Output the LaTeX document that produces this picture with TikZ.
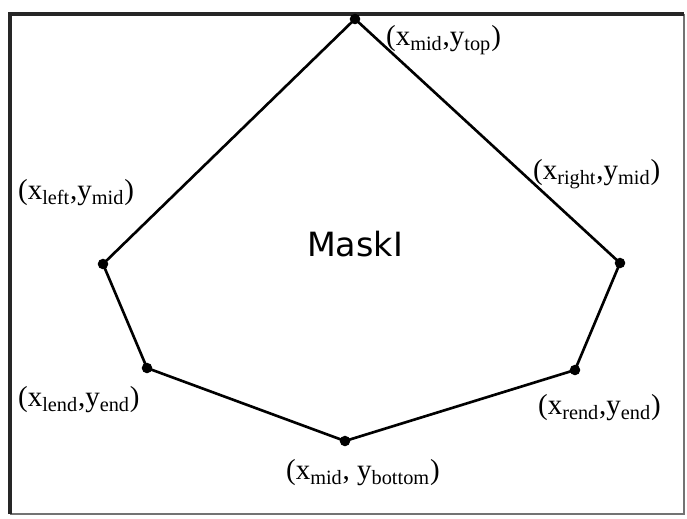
\documentclass[tikz,border=0pt]{standalone}
\usepackage{fontspec}
\setmainfont{Liberation Serif}
\newfontfamily\masksans{DejaVu Sans}
\tikzset{
  vertex/.style={circle, fill=black, inner sep=0pt, minimum size=6pt},
  coordlabel/.style={font=\fontsize{16.5}{19}\selectfont, inner sep=1pt},
}
\begin{document}
\begin{tikzpicture}[x=0.02cm, y=-0.02cm]
    \useasboundingbox (0,0) rectangle (687,518);
    % Frame
    \draw[black!55, line width=1pt] (684,14) -- (684,514) -- (10,514);
    \draw[black!85, line width=1.8pt] (10,514) -- (10,14) -- (684,14);

    % Corners of the mask
    \node[vertex] (top) at (355,19) {};
    \node[vertex] (right) at (620,263) {};
    \node[vertex] (rend) at (575,370) {};
    \node[vertex] (bottom) at (345,441) {};
    \node[vertex] (lend) at (147,368) {};
    \node[vertex] (left) at (103,264) {};

    % Outline
    \draw[line width=1.5pt, line join=round] (top.center) -- (right.center) -- (rend.center)
        -- (bottom.center) -- (lend.center) -- (left.center) -- cycle;

    % Labels
    \node[coordlabel, anchor=west] (ltop) at (384,40) {(x\textsubscript{mid},y\textsubscript{top})};
    \node[coordlabel, anchor=west] (lright) at (531,174) {(x\textsubscript{right},y\textsubscript{mid})};
    \node[coordlabel, anchor=west] (lleft) at (16,193) {(x\textsubscript{left},y\textsubscript{mid})};
    \node[coordlabel, anchor=west] (llend) at (16,400) {(x\textsubscript{lend},y\textsubscript{end})};
    \node[coordlabel, anchor=west] (lrend) at (536,408) {(x\textsubscript{rend},y\textsubscript{end})};
    \node[coordlabel, anchor=west] (lbottom) at (284,473) {(x\textsubscript{mid}, y\textsubscript{bottom})};

    \node[font=\masksans\fontsize{19}{22}\selectfont] (mask) at (355,244) {MaskI};
\end{tikzpicture}
\end{document}
